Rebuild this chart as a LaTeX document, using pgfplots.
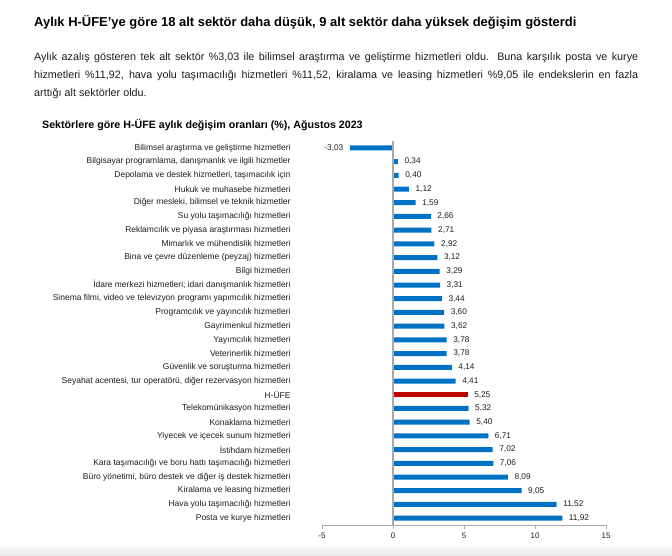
\documentclass[border=0pt]{standalone}
\usepackage{fontspec}
\setmainfont{Liberation Sans}
\usepackage{pgfplots}
\pgfplotsset{compat=1.18}
\definecolor{barblue}{RGB}{0,114,198}
\definecolor{barred}{RGB}{192,0,0}
\definecolor{axgray}{RGB}{170,170,170}
\definecolor{txt}{RGB}{30,30,30}
\begin{document}
\begin{tikzpicture}
\fill[white] (0,0) rectangle (672bp,-556bp);
\shade[top color=white, bottom color=black!10] (0,-544bp) rectangle (672bp,-556bp);
\node[anchor=base west, inner sep=0, font=\fontsize{13}{15}\selectfont\bfseries] at (34bp,-26.8bp) {Aylık H-ÜFE'ye göre 18 alt sektör daha düşük, 9 alt sektör daha yüksek değişim gösterdi};
\node[anchor=base west, inner sep=0, font=\fontsize{10.8}{12}\selectfont, color=txt] at (34bp,-60.5bp) {\hbox to 604bp{Aylık azalış gösteren tek alt sektör \%3,03 ile bilimsel araştırma ve geliştirme hizmetleri oldu. Buna karşılık posta ve kurye}};
\node[anchor=base west, inner sep=0, font=\fontsize{10.8}{12}\selectfont, color=txt] at (34bp,-78.3bp) {\hbox to 604bp{hizmetleri \%11,92, hava yolu taşımacılığı hizmetleri \%11,52, kiralama ve leasing hizmetleri \%9,05 ile endekslerin en fazla}};
\node[anchor=base west, inner sep=0, font=\fontsize{10.8}{12}\selectfont, color=txt] at (34bp,-96bp) {arttığı alt sektörler oldu.};
\node[anchor=base west, inner sep=0, font=\fontsize{10.7}{12}\selectfont\bfseries] at (42bp,-128bp) {Sektörlere göre H-ÜFE aylık değişim oranları (\%), Ağustos 2023};
\begin{axis}[
  at={(322bp,-525bp)}, anchor=south west,
  scale only axis, width=284bp, height=384bp,
  xmin=-5, xmax=15, ymin=-0.5, ymax=27.5, y dir=reverse,
  xbar, bar width=5bp, bar shift=0pt,
  axis x line*=bottom, axis y line*=left,
  y axis line style={draw=none},
  ytick style={draw=none},
  x axis line style={axgray, line width=0.8bp},
  xtick style={axgray, line width=0.8bp},
  tick align=outside, major tick length=4bp,
  xtick={-5,0,5,10,15},
  /pgf/number format/assume math mode=true,
  xticklabel style={font=\fontsize{8}{9}\selectfont, color=txt},
  ytick={0,...,27},
  yticklabels={
    Bilimsel araştırma ve geliştirme hizmetleri,
    {Bilgisayar programlama, danışmanlık ve ilgili hizmetler},
    {Depolama ve destek hizmetleri, taşımacılık için},
    Hukuk ve muhasebe hizmetleri,
    {Diğer mesleki, bilimsel ve teknik hizmetler},
    Su yolu taşımacılığı hizmetleri,
    Reklamcılık ve piyasa araştırması hizmetleri,
    Mimarlık ve mühendislik hizmetleri,
    Bina ve çevre düzenleme (peyzaj) hizmetleri,
    Bilgi hizmetleri,
    İdare merkezi hizmetleri; idari danışmanlık hizmetleri,
    {Sinema filmi, video ve televizyon programı yapımcılık hizmetleri},
    Programcılık ve yayıncılık hizmetleri,
    Gayrimenkul hizmetleri,
    Yayımcılık hizmetleri,
    Veterinerlik hizmetleri,
    Güvenlik ve soruşturma hizmetleri,
    {Seyahat acentesi, tur operatörü, diğer rezervasyon hizmetleri},
    H-ÜFE,
    Telekomünikasyon hizmetleri,
    Konaklama hizmetleri,
    Yiyecek ve içecek sunum hizmetleri,
    İstihdam hizmetleri,
    Kara taşımacılığı ve boru hattı taşımacılığı hizmetleri,
    {Büro yönetimi, büro destek ve diğer iş destek hizmetleri},
    Kiralama ve leasing hizmetleri,
    Hava yolu taşımacılığı hizmetleri,
    Posta ve kurye hizmetleri},
  yticklabel style={font=\fontsize{8.5}{9.5}\selectfont, color=txt, xshift=-24bp},
  point meta=x,
  nodes near coords={\pgfmathprintnumber[fixed,fixed zerofill,precision=2,use comma]{\pgfplotspointmeta}},
  nodes near coords style={font=\fontsize{8.3}{9.5}\selectfont, color=txt, inner xsep=6.5bp},
  clip=false,
]
\addplot[draw=none, fill=barblue] coordinates {
(-3.03,0) (0.34,1) (0.40,2) (1.12,3) (1.59,4) (2.66,5) (2.71,6) (2.92,7) (3.12,8) (3.29,9) (3.31,10) (3.44,11) (3.60,12) (3.62,13) (3.78,14) (3.78,15) (4.14,16) (4.41,17) (5.32,19) (5.40,20) (6.71,21) (7.02,22) (7.06,23) (8.09,24) (9.05,25) (11.52,26) (11.92,27)};
\addplot[draw=none, fill=barred] coordinates {(5.25,18)};
\draw[axgray, line width=1.6bp] (axis cs:0,-0.5) -- (axis cs:0,27.5);
\end{axis}
\pgfresetboundingbox
\useasboundingbox (0,0) rectangle (672bp,-556bp);
\end{tikzpicture}
\end{document}
